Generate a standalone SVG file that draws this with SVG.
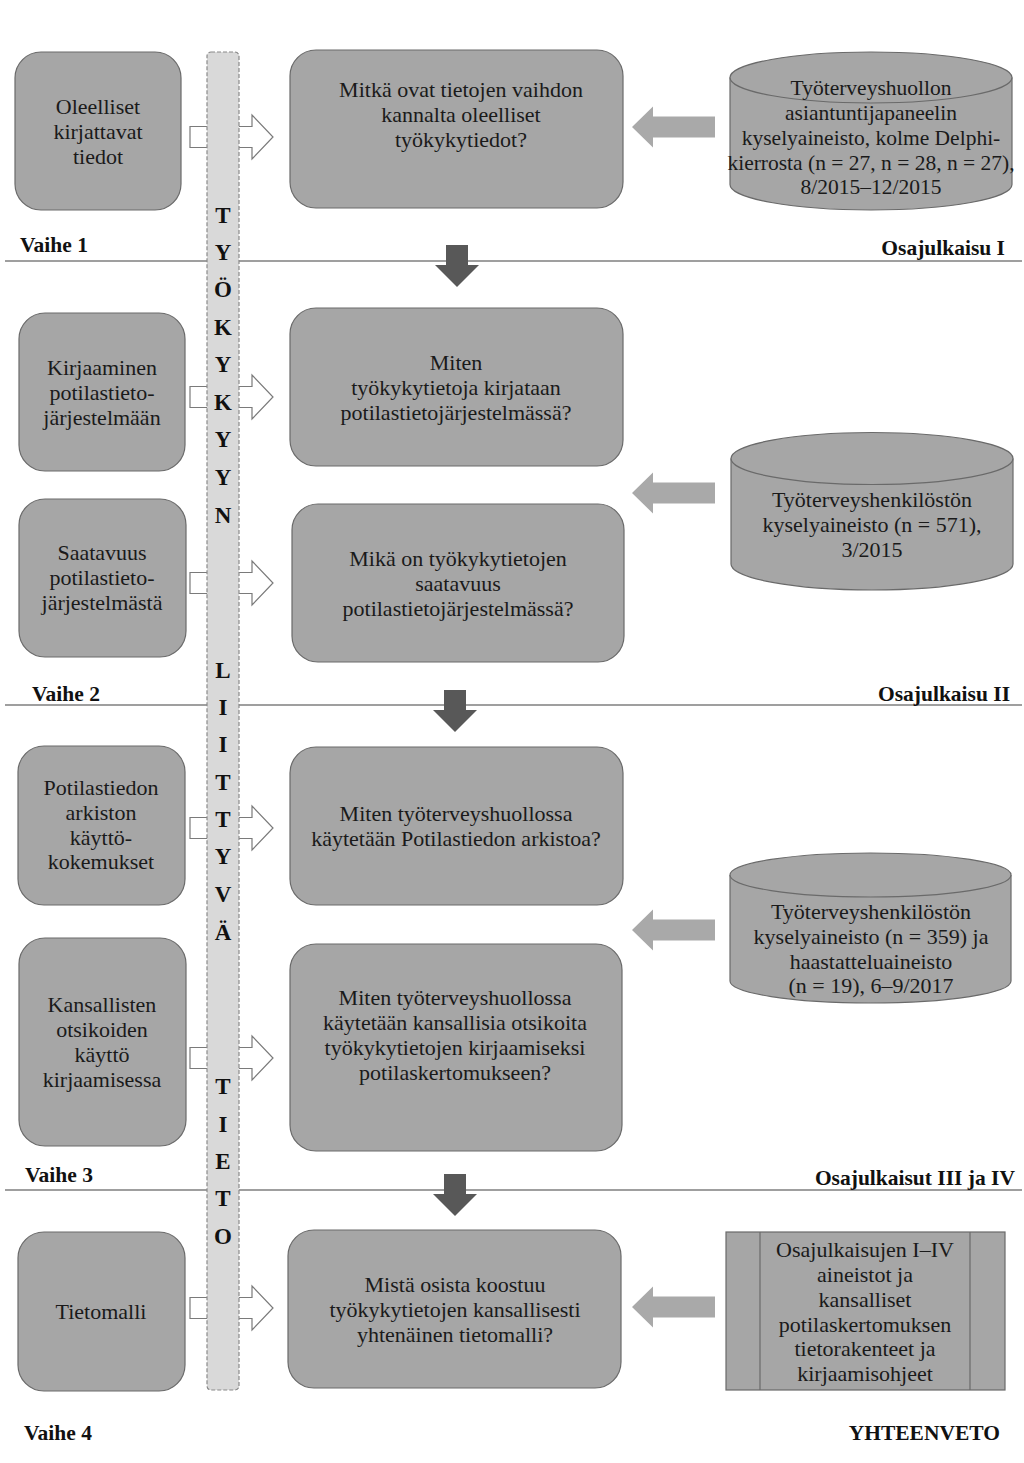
<svg xmlns="http://www.w3.org/2000/svg" width="1024" height="1463" viewBox="0 0 1024 1463">
<style>
.box{fill:#a6a6a6;stroke:#6a6a6a;stroke-width:1.2}
.t{font-family:"Liberation Serif","DejaVu Serif","Times New Roman",serif;font-size:22px;fill:#1a1a1a;text-anchor:middle}
.c1{font-size:21.5px}
.lab{font-family:"Liberation Serif","DejaVu Serif","Times New Roman",serif;font-size:21.5px;font-weight:bold;fill:#111}
.bar{fill:#d9d9d9;stroke:#8a8a8a;stroke-width:1.2;stroke-dasharray:4 2}
.bl{font-family:"Liberation Serif","DejaVu Serif","Times New Roman",serif;font-size:23px;font-weight:bold;fill:#111;text-anchor:middle}
.hol{fill:#fff;stroke:#7a7a7a;stroke-width:1.2}
.ga{fill:#a9a9a9}
.da{fill:#585858}
.hl{stroke:#7f7f7f;stroke-width:1.5}
</style>
<defs>
<path id="hollow" d="M0,-10.5 H62 V-22 L83,0 L62,22 V10.5 H0 Z"/>
<path id="grayarr" d="M0,0 L21,-20.5 V-10.5 H83 V10.5 H21 V20.5 Z"/>
<path id="darkarr" d="M-11,0 H11 V20 H22 L0,42 L-22,20 H-11 Z"/>
</defs>
<rect width="1024" height="1463" fill="#fff"/>

<g id="separators">
<line class="hl" x1="5" y1="261" x2="1022" y2="261"/>
<line class="hl" x1="5" y1="705" x2="1022" y2="705"/>
<line class="hl" x1="5" y1="1190" x2="1022" y2="1190"/>
</g>

<g id="connectors">
<use href="#hollow" class="hol" x="190" y="137"/>
<use href="#hollow" class="hol" x="190" y="397"/>
<use href="#hollow" class="hol" x="190" y="583"/>
<use href="#hollow" class="hol" x="190" y="828"/>
<use href="#hollow" class="hol" x="190" y="1058"/>
<use href="#hollow" class="hol" x="190" y="1308"/>
<use href="#grayarr" class="ga" x="632" y="127"/>
<use href="#grayarr" class="ga" x="632" y="493"/>
<use href="#grayarr" class="ga" x="632" y="930"/>
<use href="#grayarr" class="ga" x="632" y="1307"/>
<use href="#darkarr" class="da" x="457" y="245"/>
<use href="#darkarr" class="da" x="455" y="690"/>
<use href="#darkarr" class="da" x="455" y="1174"/>
</g>

<g id="bar">
<rect class="bar" x="207" y="52" width="32" height="1338" rx="4"/>
<text class="bl" x="223" y="223">T</text>
<text class="bl" x="223" y="260">Y</text>
<text class="bl" x="223" y="297">Ö</text>
<text class="bl" x="223" y="335">K</text>
<text class="bl" x="223" y="372">Y</text>
<text class="bl" x="223" y="410">K</text>
<text class="bl" x="223" y="447">Y</text>
<text class="bl" x="223" y="485">Y</text>
<text class="bl" x="223" y="523">N</text>
<text class="bl" x="223" y="678">L</text>
<text class="bl" x="223" y="715">I</text>
<text class="bl" x="223" y="752">I</text>
<text class="bl" x="223" y="790">T</text>
<text class="bl" x="223" y="827">T</text>
<text class="bl" x="223" y="864">Y</text>
<text class="bl" x="223" y="902">V</text>
<text class="bl" x="223" y="940">Ä</text>
<text class="bl" x="223" y="1094">T</text>
<text class="bl" x="223" y="1132">I</text>
<text class="bl" x="223" y="1169">E</text>
<text class="bl" x="223" y="1206">T</text>
<text class="bl" x="223" y="1244">O</text>
</g>

<g id="left1"><rect class="box" x="15" y="52" width="166" height="158" rx="26"/>
<text class="t" x="98" y="114">Oleelliset</text><text class="t" x="98" y="139">kirjattavat</text><text class="t" x="98" y="164">tiedot</text></g>
<g id="left2"><rect class="box" x="19" y="313" width="166" height="158" rx="26"/>
<text class="t" x="102" y="375">Kirjaaminen</text><text class="t" x="102" y="400">potilastieto-</text><text class="t" x="102" y="425">järjestelmään</text></g>
<g id="left3"><rect class="box" x="19" y="499" width="167" height="158" rx="26"/>
<text class="t" x="102" y="560">Saatavuus</text><text class="t" x="102" y="585">potilastieto-</text><text class="t" x="102" y="610">järjestelmästä</text></g>
<g id="left4"><rect class="box" x="18" y="746" width="167" height="159" rx="26"/>
<text class="t" x="101" y="795">Potilastiedon</text><text class="t" x="101" y="820">arkiston</text><text class="t" x="101" y="845">käyttö-</text><text class="t" x="101" y="869">kokemukset</text></g>
<g id="left5"><rect class="box" x="19" y="938" width="167" height="208" rx="26"/>
<text class="t" x="102" y="1012">Kansallisten</text><text class="t" x="102" y="1037">otsikoiden</text><text class="t" x="102" y="1062">käyttö</text><text class="t" x="102" y="1087">kirjaamisessa</text></g>
<g id="left6"><rect class="box" x="18" y="1232" width="167" height="159" rx="26"/>
<text class="t" x="101" y="1319">Tietomalli</text></g>

<g id="mid1"><rect class="box" x="290" y="50" width="333" height="158" rx="26"/>
<text class="t" x="461" y="97">Mitkä ovat tietojen vaihdon</text><text class="t" x="461" y="122">kannalta oleelliset</text><text class="t" x="461" y="147">työkykytiedot?</text></g>
<g id="mid2"><rect class="box" x="290" y="308" width="333" height="158" rx="26"/>
<text class="t" x="456" y="370">Miten</text><text class="t" x="456" y="395">työkykytietoja kirjataan</text><text class="t" x="456" y="420">potilastietojärjestelmässä?</text></g>
<g id="mid3"><rect class="box" x="292" y="504" width="332" height="158" rx="26"/>
<text class="t" x="458" y="566">Mikä on työkykytietojen</text><text class="t" x="458" y="591">saatavuus</text><text class="t" x="458" y="616">potilastietojärjestelmässä?</text></g>
<g id="mid4"><rect class="box" x="290" y="747" width="333" height="158" rx="26"/>
<text class="t" x="456" y="821">Miten työterveyshuollossa</text><text class="t" x="456" y="846">käytetään Potilastiedon arkistoa?</text></g>
<g id="mid5"><rect class="box" x="290" y="944" width="332" height="207" rx="26"/>
<text class="t" x="455" y="1005">Miten työterveyshuollossa</text><text class="t" x="455" y="1030">käytetään kansallisia otsikoita</text><text class="t" x="455" y="1055">työkykytietojen kirjaamiseksi</text><text class="t" x="455" y="1080">potilaskertomukseen?</text></g>
<g id="mid6"><rect class="box" x="288" y="1230" width="333" height="158" rx="26"/>
<text class="t" x="455" y="1292">Mistä osista koostuu</text><text class="t" x="455" y="1317">työkykytietojen kansallisesti</text><text class="t" x="455" y="1342">yhtenäinen tietomalli?</text></g>

<g id="data1">
<path class="box" d="M730,77.5 V184.5 A141,25.5 0 0 0 1012,184.5 V77.5"/>
<ellipse class="box" cx="871" cy="77.5" rx="141" ry="25.5"/>
<text class="t c1" x="871" y="95">Työterveyshuollon</text><text class="t c1" x="871" y="120">asiantuntijapaneelin</text><text class="t c1" x="871" y="145">kyselyaineisto, kolme Delphi-</text><text class="t c1" x="871" y="170">kierrosta (n = 27, n = 28, n = 27),</text><text class="t c1" x="871" y="194">8/2015–12/2015</text>
</g>
<g id="data2">
<path class="box" d="M731,458.5 V564 A141,26 0 0 0 1013,564 V458.5"/>
<ellipse class="box" cx="872" cy="458.5" rx="141" ry="26"/>
<text class="t" x="872" y="507">Työterveyshenkilöstön</text><text class="t" x="872" y="532">kyselyaineisto  (n = 571),</text><text class="t" x="872" y="557">3/2015</text>
</g>
<g id="data3">
<path class="box" d="M730,875 V981 A140.5,22 0 0 0 1011,981 V875"/>
<ellipse class="box" cx="870.5" cy="875" rx="140.5" ry="22"/>
<text class="t" x="871" y="919">Työterveyshenkilöstön</text><text class="t" x="871" y="944">kyselyaineisto  (n = 359) ja</text><text class="t" x="871" y="969">haastatteluaineisto</text><text class="t" x="871" y="993">(n = 19), 6–9/2017</text>
</g>
<g id="data4">
<rect class="box" x="726" y="1232" width="279" height="158"/>
<line x1="760" y1="1232" x2="760" y2="1390" stroke="#6a6a6a" stroke-width="1.2"/>
<line x1="970" y1="1232" x2="970" y2="1390" stroke="#6a6a6a" stroke-width="1.2"/>
<text class="t" x="865" y="1257">Osajulkaisujen I–IV</text><text class="t" x="865" y="1282">aineistot ja</text><text class="t" x="865" y="1307">kansalliset</text><text class="t" x="865" y="1332">potilaskertomuksen</text><text class="t" x="865" y="1356">tietorakenteet ja</text><text class="t" x="865" y="1381">kirjaamisohjeet</text>
</g>

<g id="labels">
<text class="lab" x="20" y="252">Vaihe 1</text>
<text class="lab" x="1005" y="255" text-anchor="end">Osajulkaisu I</text>
<text class="lab" x="32" y="701">Vaihe 2</text>
<text class="lab" x="1010" y="701" text-anchor="end">Osajulkaisu II</text>
<text class="lab" x="25" y="1182">Vaihe 3</text>
<text class="lab" x="1015" y="1185" text-anchor="end">Osajulkaisut III ja IV</text>
<text class="lab" x="24" y="1440">Vaihe 4</text>
<text class="lab" x="1000" y="1440" text-anchor="end">YHTEENVETO</text>
</g>
</svg>
